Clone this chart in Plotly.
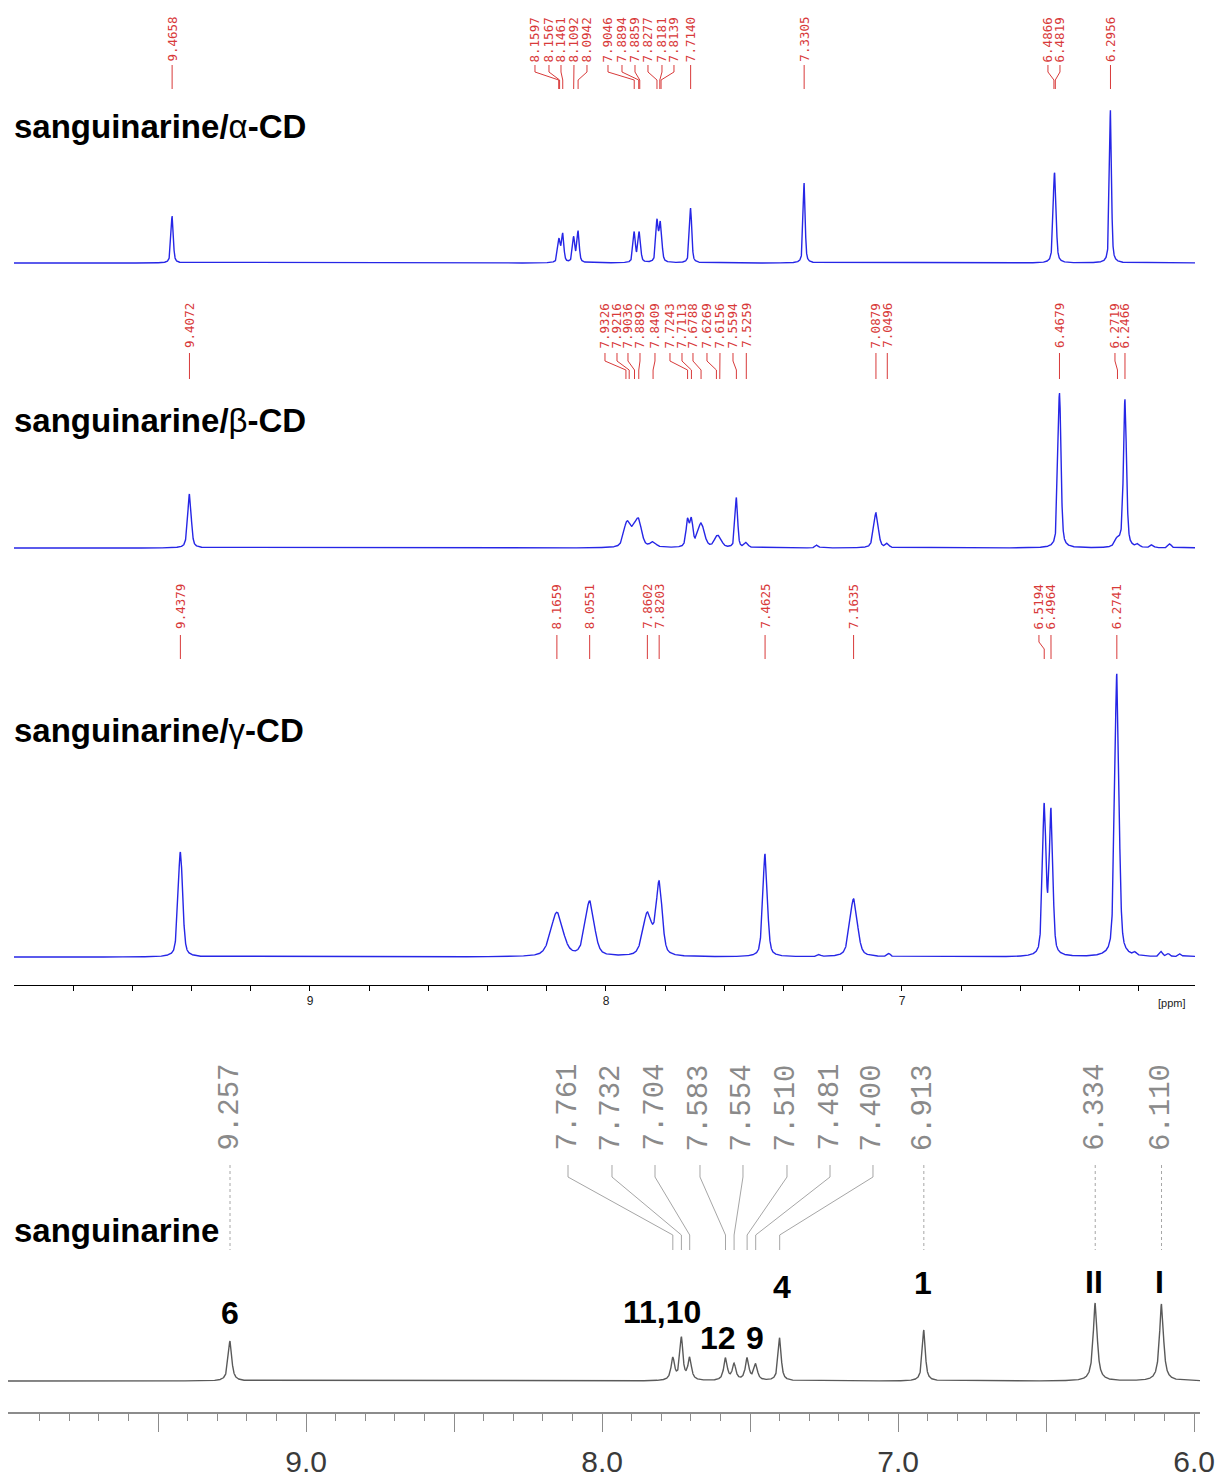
import numpy as np
import plotly.graph_objects as go

# ======================= DATA =======================
# --- sanguinarine / alpha-CD : labelled lines (ppm), intensity, half-width
ALPHA_PPM = [9.4658, 8.1597, 8.1567, 8.1461, 8.1092, 8.0942, 7.9046, 7.8894, 7.8859,
             7.8277, 7.8181, 7.8139, 7.7140, 7.3305, 6.4866, 6.4819, 6.2956]
ALPHA_INT = [47, 15, 10, 28, 25, 31, 30, 17, 17, 40, 23, 23, 55, 80, 56, 56, 153]
ALPHA_HW = [0.0045, 0.0045, 0.0045, 0.0045, 0.0045, 0.0045, 0.0045, 0.0045, 0.0045,
            0.0045, 0.0045, 0.0045, 0.0045, 0.0040, 0.0045, 0.0045, 0.0040]
ALPHA_LABELS = ["9.4658", "8.1597", "8.1567", "8.1461", "8.1092", "8.0942", "7.9046",
                "7.8894", "7.8859", "7.8277", "7.8181", "7.8139", "7.7140", "7.3305",
                "6.4866", "6.4819", "6.2956"]

# --- sanguinarine / beta-CD
BETA_PPM = [9.4072, 7.9326, 7.9216, 7.9036, 7.8892, 7.8409, 7.7243, 7.7113, 7.6788,
            7.6269, 7.6156, 7.5594, 7.5259, 7.0879, 7.0496, 6.4679, 6.2719, 6.2466]
BETA_INT = [54, 17, 13, 12, 24, 5, 26, 26, 24, 8, 7, 50, 5, 35, 4, 155, 8, 148]
BETA_HW = [0.007, 0.011, 0.011, 0.011, 0.012, 0.012, 0.006, 0.006, 0.013,
           0.010, 0.010, 0.005, 0.007, 0.009, 0.006, 0.006, 0.010, 0.006]
BETA_LABELS = ["9.4072", "7.9326", "7.9216", "7.9036", "7.8892", "7.8409", "7.7243",
               "7.7113", "7.6788", "7.6269", "7.6156", "7.5594", "7.5259", "7.0879",
               "7.0496", "6.4679", "6.2719", "6.2466"]
BETA_MINOR_PPM = [7.287, 6.203, 6.155, 6.095]
BETA_MINOR_INT = [3, 3, 3, 4]

# --- sanguinarine / gamma-CD
GAMMA_PPM = [9.4379, 8.1659, 8.0551, 7.8602, 7.8203, 7.4625, 7.1635, 6.5194, 6.4964, 6.2741]
GAMMA_INT = [105, 44, 55, 42, 72, 103, 58, 148, 143, 283]
GAMMA_HW = [0.009, 0.024, 0.018, 0.018, 0.012, 0.009, 0.015, 0.0072, 0.0072, 0.0085]
GAMMA_LABELS = ["9.4379", "8.1659", "8.0551", "7.8602", "7.8203", "7.4625", "7.1635",
                "6.5194", "6.4964", "6.2741"]
GAMMA_MINOR_PPM = [7.28, 7.044, 6.212, 6.124, 6.10, 6.06]
GAMMA_MINOR_INT = [2, 3, 3, 5, 3, 3]

# --- free sanguinarine
SANG_PPM = [9.257, 7.761, 7.732, 7.704, 7.583, 7.554, 7.510, 7.481, 7.400, 6.913, 6.334, 6.110]
SANG_INT = [40, 22, 42, 22, 22, 16, 22, 16, 43, 51, 78, 77]
SANG_HW = [0.007, 0.007, 0.006, 0.007, 0.007, 0.007, 0.007, 0.007, 0.006, 0.006, 0.008, 0.008]
SANG_LABELS = ["9.257", "7.761", "7.732", "7.704", "7.583", "7.554", "7.510", "7.481",
               "7.400", "6.913", "6.334", "6.110"]
SANG_ASSIGN = ["6", "11,10", "12", "9", "4", "1", "II", "I"]

# axis tick labels
TOP_TICKS = [7, 8, 9]
TOP_TICKTEXT = ["7", "8", "9"]
BOT_TICKS = [6.0, 6.5, 7.0, 7.5, 8.0, 8.5, 9.0, 9.5]
BOT_TICKTEXT = ["6.0", "", "7.0", "", "8.0", "", "9.0", ""]

# ======================= LAYOUT PLACEMENT ==================================
W, H = 1228, 1482
ALPHA_LABEL_X = [9.4658, 8.2399, 8.1926, 8.1520, 8.1081, 8.0642, 7.9932, 7.9459, 7.9020,
                 7.8581, 7.8108, 7.7703, 7.7140, 7.3305, 6.5068, 6.4662, 6.2956]
BETA_LABEL_X = [9.4072, 8.0034, 7.9628, 7.9257, 7.8851, 7.8345, 7.7838, 7.7432, 7.7061,
                7.6588, 7.6149, 7.5709, 7.5259, 7.0879, 7.0496, 6.4679, 6.2804, 6.2466]
GAMMA_LABEL_X = [9.4379, 8.1659, 8.0551, 7.8602, 7.8203, 7.4625, 7.1635, 6.5372, 6.4966, 6.2741]
SANG_LABEL_X = [9.257, 8.1151, 7.9665, 7.8212, 7.6692, 7.5240, 7.3753, 7.2300, 7.0848,
                6.913, 6.334, 6.110]
ASSIGN_X = [9.257, 7.7976, 7.6084, 7.4834, 7.3922, 6.9158, 6.3381, 6.1185]
ASSIGN_Y = [68, 69, 43, 43, 94, 98, 99, 99]

BLUE = "#2626e6"
RED = "#d83a3a"
GRAYTXT = "#8a8a8a"
GRAYLINE = "#a6a6a6"


def ydom(top_px, bot_px):
    return [1 - bot_px / H, 1 - top_px / H]


def spectrum(x, ppm, inten, hw, eta):
    y = np.zeros_like(x)
    for c, h, w in zip(ppm, inten, hw):
        d = (x - c) / w
        y += h * (eta / (1 + d * d) + (1 - eta) * np.exp(-np.log(2) * d * d))
    return y


grid = np.arange(5.975, 10.012, 0.0004)

fig = go.Figure()

specs = [
    (ALPHA_PPM, ALPHA_INT, ALPHA_HW, [], [], 0.55, "y", "x", BLUE, 1.4),
    (BETA_PPM, BETA_INT, BETA_HW, BETA_MINOR_PPM, BETA_MINOR_INT, 0.5, "y2", "x", BLUE, 1.4),
    (GAMMA_PPM, GAMMA_INT, GAMMA_HW, GAMMA_MINOR_PPM, GAMMA_MINOR_INT, 0.45, "y3", "x", BLUE, 1.4),
    (SANG_PPM, SANG_INT, SANG_HW, [], [], 0.9, "y4", "x2", "#5a5a5a", 1.4),
]
for ppm, inten, hw, mp, mi, eta, ya, xa, col, lw in specs:
    yy = spectrum(grid, ppm, inten, hw, eta)
    if mp:
        yy = yy + spectrum(grid, mp, mi, [0.006] * len(mp), eta)
    fig.add_trace(go.Scatter(x=grid, y=yy, mode="lines", xaxis=xa, yaxis=ya,
                             line=dict(color=col, width=lw), hoverinfo="skip"))


def connectors(label_x, peak_x, ys):
    xs, yv = [], []
    for lx, px in zip(label_x, peak_x):
        xs += [lx, lx, px, px, None]
        yv += [ys[0], ys[1], ys[2], ys[3], None]
    return xs, yv


annotations = []


def add_labels(labels, label_x, peak_x, ys, text_y, ya, xa, color, font, lcolor, dash=None):
    xs, yv = connectors(label_x, peak_x, ys)
    fig.add_trace(go.Scatter(x=xs, y=yv, mode="lines", xaxis=xa, yaxis=ya,
                             line=dict(color=lcolor, width=1, dash=dash), hoverinfo="skip"))
    for t, lx in zip(labels, label_x):
        annotations.append(dict(x=lx, y=text_y, xref=xa, yref=ya, text=t, textangle=-90,
                                xanchor="center", yanchor="bottom", showarrow=False,
                                font=dict(color=color, **font), borderpad=0))


redfont = dict(family="DejaVu Sans Mono", size=12.5)
add_labels(ALPHA_LABELS, ALPHA_LABEL_X, ALPHA_PPM, (198, 191, 183, 174), 200, "y", "x",
           RED, redfont, RED)
add_labels(BETA_LABELS, BETA_LABEL_X, BETA_PPM, (195, 187, 178, 169), 199, "y2", "x",
           RED, redfont, RED)
add_labels(GAMMA_LABELS, GAMMA_LABEL_X, GAMMA_PPM, (322, 315, 308, 298), 327, "y3", "x",
           RED, redfont, RED)

grayfont = dict(family="Liberation Mono", size=29)
grp = slice(1, 9)
add_labels(SANG_LABELS[grp], SANG_LABEL_X[grp], SANG_PPM[grp], (216, 204, 146, 131), 229,
           "y4", "x2", GRAYTXT, grayfont, GRAYLINE)
single = [0, 9, 10, 11]
add_labels([SANG_LABELS[i] for i in single], [SANG_LABEL_X[i] for i in single],
           [SANG_PPM[i] for i in single], (216, 204, 146, 131), 229, "y4", "x2",
           GRAYTXT, grayfont, GRAYLINE, dash="dot")

for t, ax_, ay_ in zip(SANG_ASSIGN, ASSIGN_X, ASSIGN_Y):
    annotations.append(dict(x=ax_, y=ay_, xref="x2", yref="y4", text=t, showarrow=False,
                            xanchor="center", yanchor="middle",
                            font=dict(family="Liberation Sans", size=32, color="black",
                                      weight="bold")))

names = [("<b>sanguinarine/</b>α<b>-CD</b>", 127),
         ("<b>sanguinarine/</b>β<b>-CD</b>", 421),
         ("<b>sanguinarine/</b>γ<b>-CD</b>", 730),
         ("<b>sanguinarine</b>", 1230)]
for t, ypx in names:
    annotations.append(dict(x=12 / W, y=1 - ypx / H, xref="paper", yref="paper", text=t,
                            showarrow=False, xanchor="left", yanchor="middle",
                            font=dict(family="Liberation Sans", size=33, color="black")))

annotations.append(dict(x=1172 / W, y=1 - 1003 / H, xref="paper", yref="paper", text="[ppm]",
                        showarrow=False, xanchor="center", yanchor="middle",
                        font=dict(family="Liberation Sans", size=11, color="#222")))

top_minor = [round(v, 1) for v in np.arange(6.2, 10.0, 0.2) if abs(v - round(v)) > 0.05]
bot_minor = [round(v, 1) for v in np.arange(6.1, 10.0, 0.1) if abs(v * 2 - round(v * 2)) > 0.05]

fig.update_layout(
    width=W, height=H, margin=dict(l=0, r=0, t=0, b=0, autoexpand=False),
    paper_bgcolor="white", plot_bgcolor="white", showlegend=False,
    annotations=annotations,
    xaxis=dict(domain=[14 / W, 1195 / W], range=[10.0, 6.01], anchor="free",
               position=1 - 985 / H, showline=True, linecolor="black", linewidth=1,
               ticks="outside", ticklen=5, tickwidth=1, tickcolor="black",
               tickmode="array", tickvals=TOP_TICKS, ticktext=TOP_TICKTEXT,
               tickfont=dict(family="Liberation Sans", size=12, color="#222"),
               minor=dict(tickmode="array", tickvals=top_minor, ticks="outside",
                          ticklen=5, tickwidth=1, tickcolor="black"),
               showgrid=False, zeroline=False),
    xaxis2=dict(domain=[8 / W, 1200 / W], range=[10.007, 5.98], anchor="free",
                position=1 - 1413 / H, showline=True, linecolor="#8c8c8c", linewidth=1.5,
                ticks="outside", ticklen=18, tickwidth=1.2, tickcolor="#8c8c8c",
                tickmode="array", tickvals=BOT_TICKS, ticktext=BOT_TICKTEXT,
                ticklabelstandoff=4,
                tickfont=dict(family="Liberation Sans Narrow, Liberation Sans", size=30,
                              color="#3a3a3a"),
                minor=dict(tickmode="array", tickvals=bot_minor, ticks="outside",
                           ticklen=7, tickwidth=1, tickcolor="#8c8c8c"),
                showgrid=False, zeroline=False),
    yaxis=dict(domain=ydom(0, 273), range=[-10, 263], visible=False, anchor="x"),
    yaxis2=dict(domain=ydom(290, 558), range=[-10, 258], visible=False, anchor="x"),
    yaxis3=dict(domain=ydom(575, 967), range=[-10, 382], visible=False, anchor="x"),
    yaxis4=dict(domain=ydom(1040, 1391), range=[-10, 341], visible=False, anchor="x2"),
)

# remove the browser's default 8px body margin so the figure fills the window exactly
fig.write_html("out.html", config={"displayModeBar": False},
               post_script="document.body.style.margin='0';document.body.style.overflow='hidden';")
